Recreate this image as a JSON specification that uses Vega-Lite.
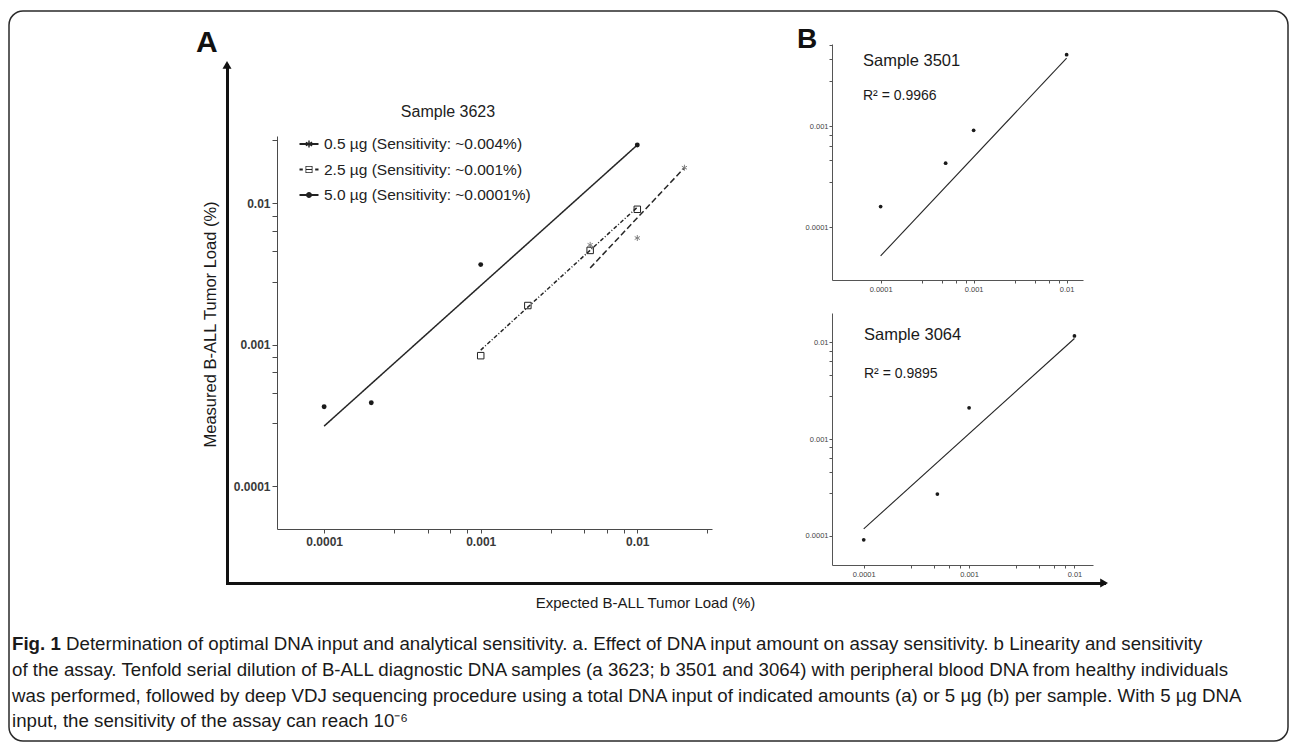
{
  "$schema": "https://vega.github.io/schema/vega-lite/v6.json",
  "width": 1279,
  "height": 730,
  "autosize": {"type": "none"},
  "padding": {"left": 9, "top": 11, "right": 2, "bottom": 1},
  "background": "white",
  "config": {
    "view": {"stroke": "#2a2a2a", "strokeWidth": 1.5, "cornerRadius": 14},
    "font": "Liberation Sans",
    "axis": {"grid": false, "labelFont": "Liberation Sans", "titleFont": "Liberation Sans", "labelFlush": false, "labelOverlap": false}
  },
  "datasets": {
    "a_points": [
      {"g": "0.5", "series": "0.5 µg (Sensitivity: ~0.004%)", "x": 0.005, "y": 0.0051},
      {"g": "0.5", "series": "0.5 µg (Sensitivity: ~0.004%)", "x": 0.01, "y": 0.0057},
      {"g": "0.5", "series": "0.5 µg (Sensitivity: ~0.004%)", "x": 0.02, "y": 0.0179},
      {"g": "2.5", "series": "2.5 µg (Sensitivity: ~0.001%)", "x": 0.001, "y": 0.00084},
      {"g": "2.5", "series": "2.5 µg (Sensitivity: ~0.001%)", "x": 0.002, "y": 0.0019},
      {"g": "2.5", "series": "2.5 µg (Sensitivity: ~0.001%)", "x": 0.005, "y": 0.00466},
      {"g": "2.5", "series": "2.5 µg (Sensitivity: ~0.001%)", "x": 0.01, "y": 0.0091},
      {"g": "5.0", "series": "5.0 µg (Sensitivity: ~0.0001%)", "x": 0.0001, "y": 0.000366},
      {"g": "5.0", "series": "5.0 µg (Sensitivity: ~0.0001%)", "x": 0.0002, "y": 0.00039},
      {"g": "5.0", "series": "5.0 µg (Sensitivity: ~0.0001%)", "x": 0.001, "y": 0.0037},
      {"g": "5.0", "series": "5.0 µg (Sensitivity: ~0.0001%)", "x": 0.01, "y": 0.0259}
    ],
    "a_fits": [
      {"g": "5.0", "series": "5.0 µg (Sensitivity: ~0.0001%)", "x": 0.0001, "y": 0.000267},
      {"g": "5.0", "series": "5.0 µg (Sensitivity: ~0.0001%)", "x": 0.01, "y": 0.0259},
      {"g": "2.5", "series": "2.5 µg (Sensitivity: ~0.001%)", "x": 0.001, "y": 0.00092},
      {"g": "2.5", "series": "2.5 µg (Sensitivity: ~0.001%)", "x": 0.01, "y": 0.0094},
      {"g": "0.5", "series": "0.5 µg (Sensitivity: ~0.004%)", "x": 0.005, "y": 0.0035},
      {"g": "0.5", "series": "0.5 µg (Sensitivity: ~0.004%)", "x": 0.02, "y": 0.0179}
    ],
    "b1_points": [
      {"x": 0.0001, "y": 0.00016},
      {"x": 0.0005, "y": 0.00043},
      {"x": 0.001, "y": 0.00091},
      {"x": 0.01, "y": 0.0051}
    ],
    "b1_fit": [
      {"x": 0.0001, "y": 0.000052},
      {"x": 0.01, "y": 0.0047}
    ],
    "b2_points": [
      {"x": 0.0001, "y": 0.000091},
      {"x": 0.0005, "y": 0.00027},
      {"x": 0.001, "y": 0.0021},
      {"x": 0.01, "y": 0.0116}
    ],
    "b2_fit": [
      {"x": 0.0001, "y": 0.000118},
      {"x": 0.01, "y": 0.0109}
    ]
  },
  "layer": [
    {
      "data": {"values": [{}]},
      "layer": [
        {
          "mark": {"type": "point", "shape": "triangle-up", "size": 81, "filled": true, "color": "#111111", "opacity": 1},
          "encoding": {
            "x": {"datum": 0, "type": "quantitative",
              "scale": {"domain": [0, 1], "range": [218, 1095.1], "nice": false, "zero": false},
              "axis": {"orient": "bottom", "offset": -158, "domainWidth": 3, "domainColor": "#111111", "domainCap": "square", "ticks": false, "labels": false, "grid": false,
                "title": "Expected B-ALL Tumor Load (%)", "titleFontSize": 15, "titleFontWeight": "normal", "titleColor": "#1a1a1a", "titleX": 636, "titlePadding": 12}},
            "y": {"datum": 1, "type": "quantitative",
              "scale": {"domain": [0, 1], "range": [572, 53.9], "nice": false, "zero": false},
              "axis": {"orient": "left", "offset": -218, "domainWidth": 3, "domainColor": "#111111", "domainCap": "square", "ticks": false, "labels": false, "grid": false,
                "title": "Measured B-ALL Tumor Load (%)", "titleFontSize": 16.5, "titleFontWeight": "normal", "titleColor": "#1a1a1a", "titlePadding": 9}}
          }
        },
        {
          "mark": {"type": "point", "shape": "triangle-right", "size": 81, "filled": true, "color": "#111111", "opacity": 1},
          "encoding": {"x": {"datum": 1, "type": "quantitative"}, "y": {"datum": 0, "type": "quantitative"}}
        },
        {
          "mark": {"type": "text", "text": "A", "fontWeight": "bold", "fontSize": 30, "align": "center", "baseline": "middle", "color": "#111111"},
          "encoding": {"x": {"datum": -0.02314, "type": "quantitative"}, "y": {"datum": 1.04323, "type": "quantitative"}}
        },
        {
          "mark": {"type": "text", "text": "B", "fontWeight": "bold", "fontSize": 28, "align": "center", "baseline": "middle", "color": "#111111"},
          "encoding": {"x": {"datum": 0.66127, "type": "quantitative"}, "y": {"datum": 1.04806, "type": "quantitative"}}
        },
        {
          "mark": {"type": "text", "text": "Fig. 1", "fontWeight": "bold", "fontSize": 18.7, "align": "left", "baseline": "middle", "color": "#1a1a1a"},
          "encoding": {"x": {"datum": -0.24513, "type": "quantitative"}, "y": {"datum": -0.11774, "type": "quantitative"}}
        },
        {
          "mark": {"type": "text", "text": "Determination of optimal DNA input and analytical sensitivity. a. Effect of DNA input amount on assay sensitivity. b Linearity and sensitivity", "fontSize": 18.7, "align": "left", "baseline": "middle", "color": "#1a1a1a"},
          "encoding": {"x": {"datum": -0.18356, "type": "quantitative"}, "y": {"datum": -0.11774, "type": "quantitative"}}
        },
        {
          "mark": {"type": "text", "text": "of the assay. Tenfold serial dilution of B-ALL diagnostic DNA samples (a 3623; b 3501 and 3064) with peripheral blood DNA from healthy individuals", "fontSize": 18.7, "align": "left", "baseline": "middle", "color": "#1a1a1a"},
          "encoding": {"x": {"datum": -0.24513, "type": "quantitative"}, "y": {"datum": -0.16792, "type": "quantitative"}}
        },
        {
          "mark": {"type": "text", "text": "was performed, followed by deep VDJ sequencing procedure using a total DNA input of indicated amounts (a) or 5 µg (b) per sample. With 5 µg DNA", "fontSize": 18.7, "align": "left", "baseline": "middle", "color": "#1a1a1a"},
          "encoding": {"x": {"datum": -0.24513, "type": "quantitative"}, "y": {"datum": -0.21714, "type": "quantitative"}}
        },
        {
          "mark": {"type": "text", "text": "input, the sensitivity of the assay can reach 10⁻⁶", "fontSize": 18.7, "align": "left", "baseline": "middle", "color": "#1a1a1a"},
          "encoding": {"x": {"datum": -0.24513, "type": "quantitative"}, "y": {"datum": -0.26635, "type": "quantitative"}}
        }
      ]
    },
    {
      "layer": [
        {
          "data": {"name": "a_fits"},
          "mark": {"type": "line", "color": "#262626", "strokeWidth": 1.5},
          "encoding": {
            "x": {"field": "x", "type": "quantitative",
              "scale": {"type": "log", "domain": [0.00005, 0.03], "range": [268, 703], "nice": false},
              "axis": {"orient": "bottom", "offset": -212, "title": null,
                "values": [0.0001, 0.00028, 0.00046, 0.00064, 0.00082, 0.001, 0.0028, 0.0046, 0.0064, 0.0082, 0.01, 0.028],
                "labelExpr": "datum.value == 0.0001 ? '0.0001' : datum.value == 0.001 ? '0.001' : datum.value == 0.01 ? '0.01' : ''",
                "domainColor": "#4a4a4a", "tickColor": "#4a4a4a", "tickSize": 4, "labelFontSize": 12, "labelFontWeight": "bold", "labelColor": "#3a3a3a", "labelPadding": 3}},
            "y": {"field": "y", "type": "quantitative",
              "scale": {"type": "log", "domain": [0.00005, 0.03], "range": [518, 125], "nice": false},
              "axis": {"orient": "left", "offset": -268, "title": null,
                "values": [0.0001, 0.00028, 0.00046, 0.00064, 0.00082, 0.001, 0.0028, 0.0046, 0.0064, 0.0082, 0.01, 0.028],
                "labelExpr": "datum.value == 0.0001 ? '0.0001' : datum.value == 0.001 ? '0.001' : datum.value == 0.01 ? '0.01' : ''",
                "domainColor": "#4a4a4a", "tickColor": "#4a4a4a", "tickSize": 5, "labelFontSize": 12, "labelFontWeight": "bold", "labelColor": "#3a3a3a", "labelPadding": 2}},
            "strokeDash": {"field": "g", "type": "nominal",
              "scale": {"domain": ["0.5", "2.5", "5.0"], "range": [[6, 3], [4, 2, 1, 2], [1, 0]]},
              "legend": null}
          }
        },
        {
          "data": {"name": "a_points"},
          "transform": [{"filter": "datum.g === '0.5'"}],
          "mark": {"type": "point", "shape": "M0,-1V1M-0.866,-0.5L0.866,0.5M-0.866,0.5L0.866,-0.5", "size": 36, "filled": false, "color": "#808080", "strokeWidth": 1, "opacity": 1},
          "encoding": {"x": {"field": "x", "type": "quantitative"}, "y": {"field": "y", "type": "quantitative"}}
        },
        {
          "data": {"name": "a_points"},
          "transform": [{"filter": "datum.g === '2.5'"}],
          "mark": {"type": "point", "shape": "square", "size": 42, "filled": false, "color": "#222222", "strokeWidth": 1, "opacity": 1},
          "encoding": {"x": {"field": "x", "type": "quantitative"}, "y": {"field": "y", "type": "quantitative"}}
        },
        {
          "data": {"name": "a_points"},
          "transform": [{"filter": "datum.g === '5.0'"}],
          "mark": {"type": "point", "shape": "circle", "size": 24, "filled": true, "color": "#1a1a1a", "opacity": 1},
          "encoding": {"x": {"field": "x", "type": "quantitative"}, "y": {"field": "y", "type": "quantitative"}}
        },
        {
          "data": {"name": "a_points"},
          "mark": {"type": "point", "filled": true, "color": "#222222", "opacity": 1, "size": 0},
          "encoding": {
            "x": {"field": "x", "type": "quantitative"},
            "y": {"field": "y", "type": "quantitative"},
            "shape": {"field": "series", "type": "nominal",
              "scale": {"domain": ["0.5 µg (Sensitivity: ~0.004%)", "2.5 µg (Sensitivity: ~0.001%)", "5.0 µg (Sensitivity: ~0.0001%)"],
                "range": [
                  "M-0.95,-0.1H0.95V0.1H-0.95ZM-0.07,-0.36H0.07V0.36H-0.07ZM-0.346,-0.113L-0.276,-0.234L0.346,0.126L0.276,0.247ZM-0.276,0.234L-0.346,0.113L0.276,-0.247L0.346,-0.126Z",
                  "M-0.95,-0.09H-0.62V0.09H-0.95ZM0.62,-0.09H0.95V0.09H0.62ZM-0.35,-0.35H0.35V0.35H-0.35ZM-0.27,-0.27V0.27H0.27V-0.27ZM-0.35,-0.06H0.35V0.06H-0.35Z",
                  "M-0.95,-0.1H0.95V0.1H-0.95ZM-0.3,0A0.3,0.3,0,1,1,0.3,0A0.3,0.3,0,1,1,-0.3,0Z"
                ]},
              "legend": {"orient": "none", "legendX": 290, "legendY": 123, "title": null, "padding": 0,
                "symbolSize": 400, "symbolStrokeWidth": 0, "symbolFillColor": "#222222", "symbolOffset": 0,
                "labelFont": "Liberation Sans", "labelFontSize": 15.5, "labelColor": "#222222", "labelLimit": 400, "labelOffset": 5, "rowPadding": 6.5}}
          }
        },
        {
          "data": {"values": [{}]},
          "mark": {"type": "text", "text": "Sample 3623", "fontSize": 16, "align": "center", "baseline": "middle", "color": "#222222"},
          "encoding": {"x": {"datum": 0.000618, "type": "quantitative"}, "y": {"datum": 0.04434, "type": "quantitative"}}
        }
      ]
    },
    {
      "layer": [
        {
          "data": {"name": "b1_fit"},
          "mark": {"type": "line", "color": "#262626", "strokeWidth": 1.1},
          "encoding": {
            "x": {"field": "x", "type": "quantitative",
              "scale": {"type": "log", "domain": [0.00003, 0.015], "range": [823, 1074], "nice": false},
              "axis": {"orient": "bottom", "offset": -461, "title": null,
                "values": [0.0001, 0.00028, 0.00046, 0.00064, 0.00082, 0.001, 0.0028, 0.0046, 0.0064, 0.0082, 0.01],
                "labelExpr": "datum.value == 0.0001 ? '0.0001' : datum.value == 0.001 ? '0.001' : datum.value == 0.01 ? '0.01' : ''",
                "domainColor": "#555555", "tickColor": "#555555", "tickSize": 3, "labelFontSize": 7.5, "labelColor": "#444444", "labelPadding": 2}},
            "y": {"field": "y", "type": "quantitative",
              "scale": {"type": "log", "domain": [0.00003, 0.0065], "range": [269, 33], "nice": false},
              "axis": {"orient": "left", "offset": -823, "title": null,
                "values": [0.0001, 0.00028, 0.00046, 0.00064, 0.00082, 0.001, 0.0028, 0.0046, 0.0064],
                "labelExpr": "datum.value == 0.0001 ? '0.0001' : datum.value == 0.001 ? '0.001' : datum.value == 0.01 ? '0.01' : ''",
                "domainColor": "#555555", "tickColor": "#555555", "tickSize": 3, "labelFontSize": 7.5, "labelColor": "#444444", "labelPadding": 1}}
          }
        },
        {
          "data": {"name": "b1_points"},
          "mark": {"type": "point", "shape": "circle", "size": 14, "filled": true, "color": "#1a1a1a", "opacity": 1},
          "encoding": {"x": {"field": "x", "type": "quantitative"}, "y": {"field": "y", "type": "quantitative"}}
        },
        {
          "data": {"values": [{}]},
          "mark": {"type": "text", "text": "Sample 3501", "fontSize": 16.5, "align": "left", "baseline": "middle", "color": "#1a1a1a"},
          "encoding": {"x": {"datum": 0.0000646, "type": "quantitative"}, "y": {"datum": 0.004413, "type": "quantitative"}}
        },
        {
          "data": {"values": [{}]},
          "mark": {"type": "text", "text": "R² = 0.9966", "fontSize": 14, "align": "left", "baseline": "middle", "color": "#1a1a1a"},
          "encoding": {"x": {"datum": 0.0000646, "type": "quantitative"}, "y": {"datum": 0.001987, "type": "quantitative"}}
        }
      ]
    },
    {
      "layer": [
        {
          "data": {"name": "b2_fit"},
          "mark": {"type": "line", "color": "#262626", "strokeWidth": 1.1},
          "encoding": {
            "x": {"field": "x", "type": "quantitative",
              "scale": {"type": "log", "domain": [0.00005, 0.015], "range": [823, 1084], "nice": false},
              "axis": {"orient": "bottom", "offset": -176, "title": null,
                "values": [0.0001, 0.00028, 0.00046, 0.00064, 0.00082, 0.001, 0.0028, 0.0046, 0.0064, 0.0082, 0.01],
                "labelExpr": "datum.value == 0.0001 ? '0.0001' : datum.value == 0.001 ? '0.001' : datum.value == 0.01 ? '0.01' : ''",
                "domainColor": "#555555", "tickColor": "#555555", "tickSize": 3, "labelFontSize": 7.5, "labelColor": "#444444", "labelPadding": 2}},
            "y": {"field": "y", "type": "quantitative",
              "scale": {"type": "log", "domain": [0.00005, 0.02], "range": [554, 302], "nice": false},
              "axis": {"orient": "left", "offset": -823, "title": null,
                "values": [0.0001, 0.00028, 0.00046, 0.00064, 0.00082, 0.001, 0.0028, 0.0046, 0.0064, 0.0082, 0.01],
                "labelExpr": "datum.value == 0.0001 ? '0.0001' : datum.value == 0.001 ? '0.001' : datum.value == 0.01 ? '0.01' : ''",
                "domainColor": "#555555", "tickColor": "#555555", "tickSize": 3, "labelFontSize": 7.5, "labelColor": "#444444", "labelPadding": 1}}
          }
        },
        {
          "data": {"name": "b2_points"},
          "mark": {"type": "point", "shape": "circle", "size": 14, "filled": true, "color": "#1a1a1a", "opacity": 1},
          "encoding": {"x": {"field": "x", "type": "quantitative"}, "y": {"field": "y", "type": "quantitative"}}
        },
        {
          "data": {"values": [{}]},
          "mark": {"type": "text", "text": "Sample 3064", "fontSize": 16.5, "align": "left", "baseline": "middle", "color": "#1a1a1a"},
          "encoding": {"x": {"datum": 0.0001006, "type": "quantitative"}, "y": {"datum": 0.011857, "type": "quantitative"}}
        },
        {
          "data": {"values": [{}]},
          "mark": {"type": "text", "text": "R² = 0.9895", "fontSize": 14, "align": "left", "baseline": "middle", "color": "#1a1a1a"},
          "encoding": {"x": {"datum": 0.0001006, "type": "quantitative"}, "y": {"datum": 0.00469, "type": "quantitative"}}
        }
      ]
    }
  ],
  "resolve": {
    "scale": {"x": "independent", "y": "independent"},
    "axis": {"x": "independent", "y": "independent"}
  }
}
